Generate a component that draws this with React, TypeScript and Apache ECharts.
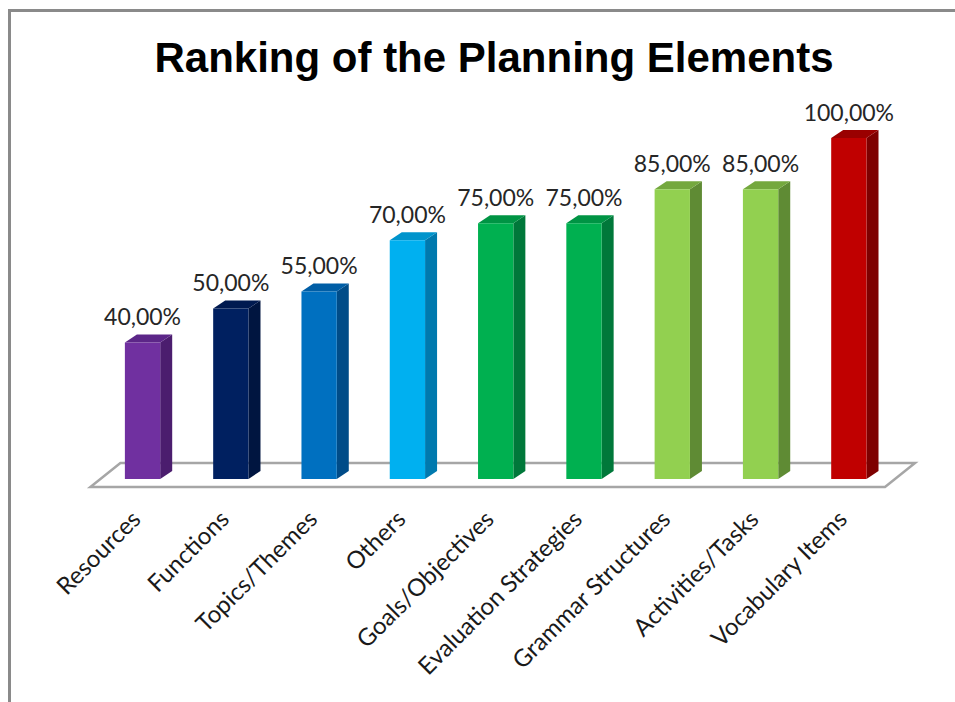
import React, { useEffect, useRef } from "react";
import * as echarts from "echarts";

const titleText = "Ranking of the Planning Elements";
const categories = [
  "Resources",
  "Functions",
  "Topics/Themes",
  "Others",
  "Goals/Objectives",
  "Evaluation Strategies",
  "Grammar Structures",
  "Activities/Tasks",
  "Vocabulary Items",
];
const values = [40, 50, 55, 70, 75, 75, 85, 85, 100];

const frontColors = ["#7030A0", "#002060", "#0070C0", "#00B0F0", "#00B050", "#00B050", "#92D050", "#92D050", "#C00000"];
const sideColors = ["#4B1D6E", "#001540", "#004C88", "#0079AE", "#00783A", "#00783A", "#5F8B34", "#5F8B34", "#7E0000"];
const topColors = ["#5C2688", "#001A50", "#005EA6", "#0094CC", "#009444", "#009444", "#74A83E", "#74A83E", "#9A0000"];

const DX = 12;
const DY = 8;

function fmt(v: number) {
  return v.toFixed(2).replace(".", ",") + "%";
}

export default function App() {
  const ref = useRef<HTMLDivElement>(null);
  useEffect(() => {
    if (!ref.current) return;
    const chart = echarts.init(ref.current, undefined, { renderer: "svg" });
    const n = categories.length;
    const option: any = {
      animation: false,
      backgroundColor: "#ffffff",
      title: {
        text: titleText,
        left: 489,
        top: 31,
        textAlign: "center",
        textStyle: {
          fontFamily: "Liberation Sans, Arial, sans-serif",
          fontWeight: "bold",
          fontSize: 42,
          color: "#000000",
        },
      },
      grid: { left: 98.4, right: 62, top: 138, bottom: 223 },
      xAxis: {
        type: "category",
        data: categories,
        axisLine: { show: false },
        axisTick: { show: false },
        splitLine: { show: false },
        axisLabel: {
          rotate: 45,
          margin: 28,
          interval: 0,
          padding: [0, 10, 0, 0],
          fontFamily: "Lato, sans-serif",
          fontSize: 24,
          color: "#1a1a1a",
        },
      },
      yAxis: {
        type: "value",
        min: 0,
        max: 100,
        show: false,
      },
      graphic: [
        {
          type: "line",
          shape: { x1: 9.5, y1: 10.5, x2: 9.5, y2: 702 },
          style: { stroke: "#8a8a8a", lineWidth: 3 },
          z: 100,
        },
        {
          type: "line",
          shape: { x1: 8, y1: 10.5, x2: 955, y2: 10.5 },
          style: { stroke: "#8a8a8a", lineWidth: 3 },
          z: 100,
        },
      ],
      series: [
        {
          type: "custom",
          name: "floor",
          data: [[0, 0]],
          silent: true,
          clip: false,
          z: 1,
          renderItem: (params: any, api: any) => {
            const band = api.size([1, 0])[0];
            const first = api.coord([0, 0]);
            const last = api.coord([n - 1, 0]);
            const y0 = first[1];
            const xl = first[0] - band / 2 - 8;
            const xr = last[0] + band / 2 - 8;
            const yf = y0 + 8;
            const yb = y0 - 16;
            const sh = 30;
            return {
              type: "polygon",
              shape: {
                points: [
                  [xl, yf],
                  [xr, yf],
                  [xr + sh, yb],
                  [xl + sh, yb],
                ],
              },
              style: { fill: "#ffffff", stroke: "#a6a6a6", lineWidth: 2.5 },
            };
          },
        },
        {
          type: "custom",
          name: "bars",
          data: values.map((v, i) => [i, v]),
          encode: { x: 0, y: 1 },
          clip: false,
          z: 2,
          renderItem: (params: any, api: any) => {
            const idx = api.value(0);
            const val = api.value(1);
            const p0 = api.coord([idx, 0]);
            const p1 = api.coord([idx, val]);
            const band = api.size([1, 0])[0];
            const w = band * 0.4;
            const x0 = p0[0] - w / 2;
            const x1 = x0 + w;
            const yb = p0[1];
            const yt = p1[1];
            const i = params.dataIndex;
            return {
              type: "group",
              children: [
                {
                  type: "polygon",
                  shape: {
                    points: [
                      [x1, yt],
                      [x1 + DX, yt - DY],
                      [x1 + DX, yb - DY],
                      [x1, yb],
                    ],
                  },
                  style: { fill: sideColors[i] },
                },
                {
                  type: "polygon",
                  shape: {
                    points: [
                      [x0, yt],
                      [x0 + DX, yt - DY],
                      [x1 + DX, yt - DY],
                      [x1, yt],
                    ],
                  },
                  style: { fill: topColors[i] },
                },
                {
                  type: "rect",
                  shape: { x: x0, y: yt, width: w, height: yb - yt },
                  style: { fill: frontColors[i] },
                },
                {
                  type: "text",
                  x: p0[0],
                  y: yt - 15,
                  style: {
                    text: fmt(val),
                    align: "center",
                    verticalAlign: "bottom",
                    fontFamily: "Lato, sans-serif",
                    fontSize: 23,
                    fill: "#262626",
                  },
                },
              ],
            };
          },
        },
      ],
    };
    chart.setOption(option);
    return () => chart.dispose();
  }, []);
  return (
    <div
      ref={ref}
      style={{ position: "fixed", left: 0, top: 0, width: 955, height: 702 }}
    />
  );
}
